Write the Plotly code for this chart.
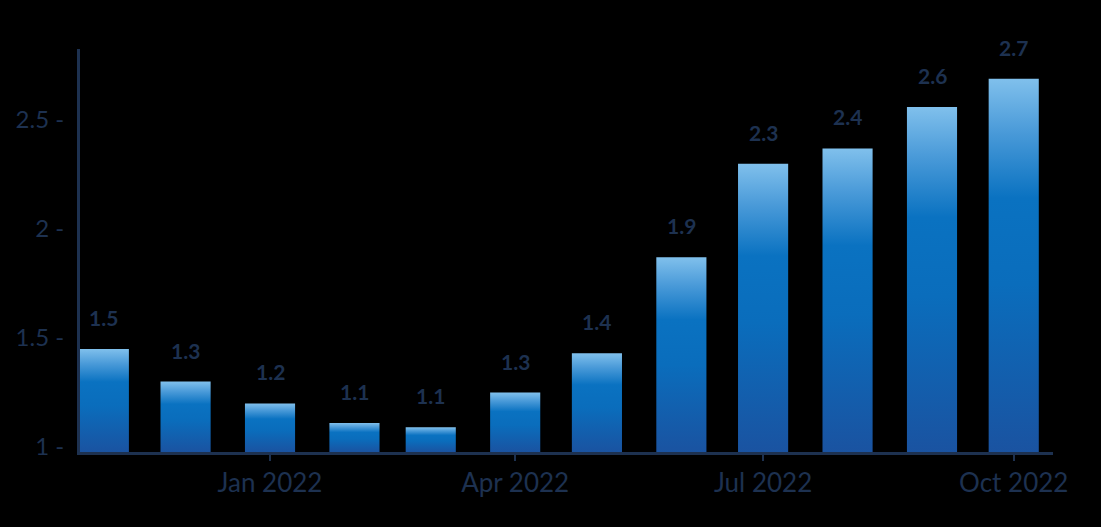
import pandas as pd
import plotly.graph_objects as go

# monthly values
months = ['2021-11-01', '2021-12-01', '2022-01-01', '2022-02-01', '2022-03-01', '2022-04-01',
          '2022-05-01', '2022-06-01', '2022-07-01', '2022-08-01', '2022-09-01', '2022-10-01']
values = [1.45, 1.30, 1.20, 1.11, 1.09, 1.25, 1.43, 1.87, 2.30, 2.37, 2.56, 2.69]
labels = ['1.5', '1.3', '1.2', '1.1', '1.1', '1.3', '1.4', '1.9', '2.3', '2.4', '2.6', '2.7']

NAVY = '#1d3150'
FONT = 'Lato'
Y0 = 0.977
half = pd.Timedelta(days=9.2)

bar_scale = [[0, '#1a53a1'], [0.45, '#0a6dbc'], [0.68, '#0a72c1'],
             [0.86, '#4b9bd9'], [1, '#80c0ec']]

fig = go.Figure()

for m, v in zip(months, values):
    c = pd.Timestamp(m)
    xs = [c - half, c - half, c + half, c + half, c - half]
    ys = [Y0, v, v, Y0, Y0]
    fig.add_trace(go.Scatter(
        x=xs, y=ys, mode='lines', fill='toself', line=dict(width=0),
        fillgradient=dict(type='vertical', colorscale=bar_scale),
        hoverinfo='skip', showlegend=False))

for m, v, t in zip(months, values, labels):
    fig.add_annotation(x=m, y=v, text=t, showarrow=False, yanchor='bottom', yshift=17,
                       font=dict(family=FONT, size=21, color=NAVY, weight='bold'))

fig.update_layout(
    width=1101, height=527,
    paper_bgcolor='black', plot_bgcolor='black',
    margin=dict(l=80, r=48, t=49, b=75),
    font=dict(family=FONT, color=NAVY, size=26),
    showlegend=False,
)

fig.update_xaxes(
    type='date', range=['2021-10-23 06:00', '2022-10-15 10:00'],
    tick0='2022-01-01', dtick='M3', tickformat='%b %Y',
    showgrid=False, zeroline=False,
    showline=True, linecolor=NAVY, linewidth=3,
    ticks='outside', ticklen=6, tickwidth=2, tickcolor=NAVY,
)
fig.update_yaxes(
    range=[Y0, 2.826], tickvals=[1, 1.5, 2, 2.5], ticktext=['1 -', '1.5 -', '2 -', '2.5 -'],
    tickfont=dict(size=24),
    showgrid=False, zeroline=False,
    showline=True, linecolor=NAVY, linewidth=3,
    ticks='', ticklabelstandoff=8,
)

fig.write_html("out.html", config={'displayModeBar': False},
               post_script="document.body.style.margin='0';document.body.style.background='black';")
